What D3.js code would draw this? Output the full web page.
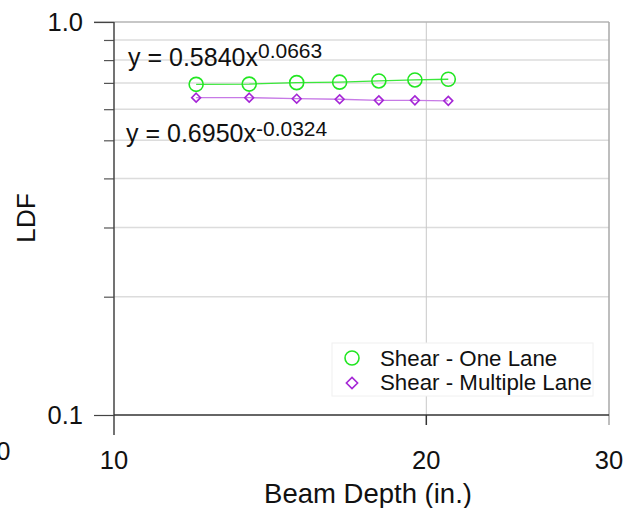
<!DOCTYPE html>
<html><head><meta charset="utf-8">
<script src="https://cdn.jsdelivr.net/npm/d3@7"></script>
<style>body{margin:0;background:#fff}svg{display:block;font-family:"Liberation Sans",Arial,sans-serif}</style>
</head><body>
<svg id="c" width="635" height="508"></svg>
<script>
const depth = [12, 13.5, 15, 16.5, 18, 19.5, 21];
const oneLane = [0.694, 0.695, 0.701, 0.703, 0.708, 0.712, 0.715];
const multiLane = [0.642, 0.642, 0.638, 0.636, 0.632, 0.632, 0.630];
const xTickLabels = [10, 20, 30];
const yMajor = [0.1, 1.0];
const yMinor = [0.2, 0.3, 0.4, 0.5, 0.6, 0.7, 0.8, 0.9];
const seriesNames = ["Shear - One Lane", "Shear - Multiple Lane"];

const svg = d3.select("#c");
const x = d3.scaleLog().domain([10, 30]).range([114, 609]);
const y = d3.scaleLog().domain([0.1, 1]).range([415, 22]);
const green = "#22e622", purple = "#a526d6";

// gridlines
svg.append("g").selectAll("line").data(yMinor).join("line")
  .attr("x1", x(10)).attr("x2", x(30)).attr("y1", d => y(d)).attr("y2", d => y(d))
  .attr("stroke", "#dcdcdc").attr("stroke-width", 1.5);
svg.append("line").attr("x1", x(20)).attr("x2", x(20)).attr("y1", y(1)).attr("y2", y(0.1))
  .attr("stroke", "#c8c8c8").attr("stroke-width", 1);
// frame top/right
svg.append("line").attr("x1", 94).attr("x2", x(30)).attr("y1", y(1)).attr("y2", y(1))
  .attr("stroke", "#b4b4b4").attr("stroke-width", 1.5);
svg.append("line").attr("x1", x(30)).attr("x2", x(30)).attr("y1", y(1)).attr("y2", y(0.1) + 10)
  .attr("stroke", "#a8a8a8").attr("stroke-width", 1.5);

// y axis
const yAxisMinor = d3.axisLeft(y).tickValues(yMinor).tickSize(10).tickFormat("");
const gyMinor = svg.append("g").attr("transform", `translate(${x(10)},0)`).call(yAxisMinor);
gyMinor.select(".domain").remove();
gyMinor.selectAll("line").attr("stroke", "#555").attr("stroke-width", 1.2);
const yAxis = d3.axisLeft(y).tickValues(yMajor).tickSize(20).tickPadding(11).tickFormat(d3.format(".1f"));
const gy = svg.append("g").attr("transform", `translate(${x(10)},0)`).call(yAxis);
gy.select(".domain").remove();
gy.selectAll("line").attr("stroke", "#444").attr("stroke-width", 1.2);
gy.selectAll("text").attr("font-size", 25.5).attr("fill", "#111").attr("font-family", "Liberation Sans, Arial, sans-serif");
svg.append("line").attr("x1", x(10)).attr("x2", x(10)).attr("y1", y(1)).attr("y2", y(0.1) + 20)
  .attr("stroke", "#444").attr("stroke-width", 1.5);

// x axis
svg.append("line").attr("x1", x(10)).attr("x2", x(30)).attr("y1", y(0.1)).attr("y2", y(0.1))
  .attr("stroke", "#333").attr("stroke-width", 1.5);
svg.append("line").attr("x1", x(20)).attr("x2", x(20)).attr("y1", y(0.1)).attr("y2", y(0.1) + 10)
  .attr("stroke", "#333").attr("stroke-width", 1.5);
svg.append("g").selectAll("text").data(xTickLabels).join("text")
  .attr("x", d => x(d)).attr("y", 469).attr("text-anchor", "middle")
  .attr("font-size", 25.5).attr("fill", "#111").text(d => d);
svg.append("text").attr("x", 10.5).attr("y", 460).attr("text-anchor", "end")
  .attr("font-size", 25).attr("fill", "#111").text("0");

// axis titles
svg.append("text").attr("x", 368).attr("y", 503).attr("text-anchor", "middle")
  .attr("font-size", 27.5).attr("fill", "#111").text("Beam Depth (in.)");
svg.append("text").attr("transform", "translate(35,218) rotate(-90)").attr("text-anchor", "middle")
  .attr("font-size", 26.5).attr("fill", "#111").text("LDF");

// series lines
const line = d3.line().x(d => x(d[0])).y(d => y(d[1]));
svg.append("path").datum(depth.map((d, i) => [d, oneLane[i]])).attr("d", line)
  .attr("fill", "none").attr("stroke", "#3be83b").attr("stroke-width", 1.3);
svg.append("path").datum(depth.map((d, i) => [d, multiLane[i]])).attr("d", line)
  .attr("fill", "none").attr("stroke", "#c77ae6").attr("stroke-width", 1.3);

// markers
svg.append("g").selectAll("circle").data(depth).join("circle")
  .attr("cx", d => x(d)).attr("cy", (d, i) => y(oneLane[i])).attr("r", 7)
  .attr("fill", "none").attr("stroke", green).attr("stroke-width", 1.6);
const diamond = d3.symbol().type(d3.symbolDiamond2).size(50);
svg.append("g").selectAll("path").data(depth).join("path")
  .attr("transform", (d, i) => `translate(${x(d)},${y(multiLane[i])})`)
  .attr("d", diamond).attr("fill", "none").attr("stroke", purple).attr("stroke-width", 1.6);

// equations
const eq1 = svg.append("text").attr("x", 128).attr("y", 66).attr("font-size", 25).attr("fill", "#111");
eq1.append("tspan").text("y = 0.5840x");
eq1.append("tspan").attr("dy", -8).attr("font-size", 21).text("0.0663");
const eq2 = svg.append("text").attr("x", 126).attr("y", 142).attr("font-size", 25).attr("fill", "#111");
eq2.append("tspan").text("y = 0.6950x");
eq2.append("tspan").attr("dy", -6).attr("font-size", 21).text("-0.0324");

// legend
const lg = svg.append("g");
lg.append("rect").attr("x", 332).attr("y", 343).attr("width", 261).attr("height", 53)
  .attr("fill", "#fff").attr("stroke", "#f0f0f0").attr("stroke-width", 1);
lg.append("circle").attr("cx", 352).attr("cy", 358).attr("r", 7)
  .attr("fill", "none").attr("stroke", green).attr("stroke-width", 1.6);
lg.append("path").attr("transform", "translate(352,383)")
  .attr("d", d3.symbol().type(d3.symbolDiamond2).size(80)).attr("fill", "none")
  .attr("stroke", purple).attr("stroke-width", 1.6);
lg.selectAll("text").data(seriesNames).join("text")
  .attr("x", 380).attr("y", (d, i) => 366 + i * 24).attr("font-size", 22.3).attr("fill", "#111").text(d => d);
</script>
</body></html>
